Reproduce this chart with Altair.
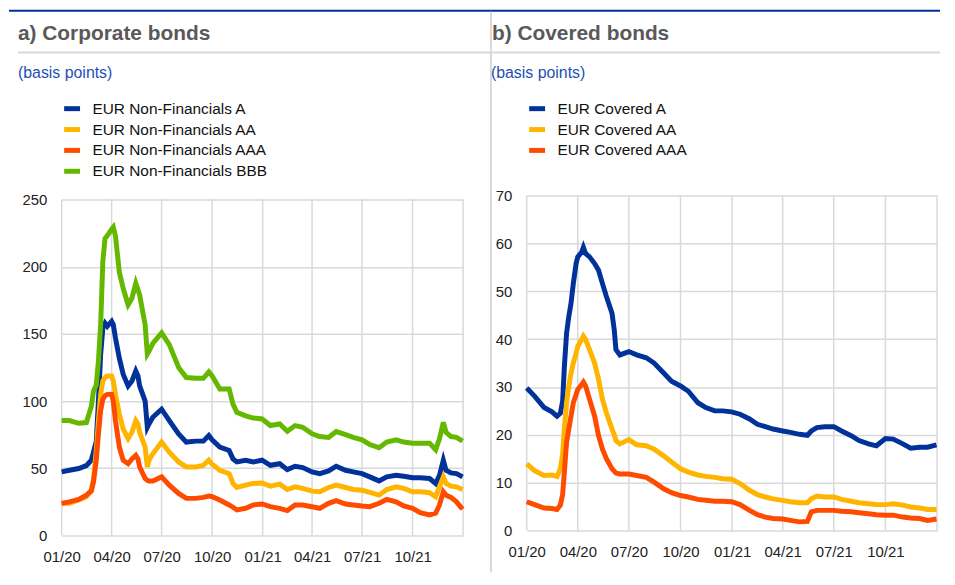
import altair as alt
import pandas as pd

FONT = "Liberation Sans"
GRID = "#d9d9d9"

# ---------------- a) Corporate bonds ----------------
corp_dates = [
    "2020/01/01", "2020/01/15", "2020/02/01", "2020/02/15", "2020/02/24",
    "2020/02/28", "2020/03/04", "2020/03/08", "2020/03/12", "2020/03/16",
    "2020/03/20", "2020/03/24", "2020/04/01", "2020/04/04", "2020/04/08",
    "2020/04/15", "2020/04/22", "2020/05/01", "2020/05/08", "2020/05/15",
    "2020/05/19", "2020/05/22", "2020/06/01", "2020/06/05", "2020/06/08",
    "2020/06/15", "2020/07/01", "2020/07/15", "2020/08/01", "2020/08/15",
    "2020/09/01", "2020/09/15", "2020/09/25", "2020/10/01", "2020/10/15",
    "2020/11/01", "2020/11/08", "2020/11/15", "2020/12/01", "2020/12/15", "2020/12/31",
    "2021/01/15", "2021/02/01", "2021/02/15", "2021/03/01", "2021/03/15",
    "2021/04/01", "2021/04/15", "2021/05/01", "2021/05/15", "2021/06/01",
    "2021/06/15", "2021/07/01", "2021/07/15", "2021/08/01", "2021/08/15",
    "2021/09/01", "2021/09/15", "2021/10/01", "2021/10/15", "2021/11/01",
    "2021/11/12", "2021/11/19", "2021/11/26", "2021/12/01", "2021/12/10",
    "2021/12/20", "2021/12/31",
]
corp_A = [
    47.3, 48.5, 49.8, 52, 56, 62, 70, 100, 134.7, 154.4,
    158, 155.7, 159.4, 157, 147, 132, 120, 111.3, 115, 122.4,
    118.7, 111.3, 100, 80.5, 83, 88, 94, 85.5, 75.6, 69.5,
    70.2, 70.2, 74.4, 71.2, 65.8, 63.3, 57, 54.7, 56, 54.7, 56,
    52.2, 53.4, 49, 51.5, 50.5, 47.3, 46, 48, 51.5, 48.5,
    47.3, 46, 43.6, 40.6, 43.6, 44.8, 44, 43, 43, 42.4,
    38.7, 44.8, 56, 48.5, 46.6, 46, 43.6,
]
corp_AA = [
    23.9, 24, 26.4, 28.8, 34, 42, 63, 85.5, 105, 115,
    117.5, 118.7, 118.7, 115, 105, 90.4, 79.3, 72, 76.8, 85.5,
    83, 76.8, 65.8, 51, 56, 60.8, 69.5, 62, 54.7, 51,
    51, 52.2, 56, 53, 48.5, 46, 38.7, 35.7, 37.4, 38.7, 39,
    36.7, 38.2, 34.2, 36.2, 35, 33, 32.5, 35.7, 37.4, 35.7,
    34.2, 33.7, 32, 30, 34.2, 36.2, 35, 32.5, 32.5, 31.8,
    28.8, 36.2, 43.6, 38.7, 36.7, 36.2, 34.2,
]
corp_AAA = [
    23.9, 25, 26.8, 30, 33, 40, 56, 75.6, 93, 101.5,
    104, 105, 105, 100, 85.5, 65.8, 56, 53.4, 57, 59.6,
    57, 51, 42.4, 41, 40.6, 40.6, 43.6, 37.4, 31.3, 27.6,
    27.6, 28.3, 29.3, 28.8, 26.4, 22.7, 21, 19, 20.2, 22.7, 23.4,
    21.4, 20.2, 18.5, 22.7, 22.7, 21.4, 20.2, 23.9, 25.9, 23.4,
    22.7, 21.9, 21.4, 23.9, 26.8, 25.1, 21.9, 20.2, 17, 15.3,
    16.5, 22.7, 32.5, 30, 28.3, 25, 19.5,
]
corp_BBB = [
    85.5, 85.5, 83.5, 84, 96, 107.6, 112, 130, 157, 204,
    221, 223, 228, 229.5, 223, 196, 184, 171.7, 176.6, 187.7,
    182.8, 179, 157, 135, 137, 143, 150.7, 142, 125, 117.5,
    117, 117, 121.7, 118.7, 109, 109, 97.8, 91.6, 89, 87.4, 86.7,
    81.8, 83, 77.6, 81.8, 80.5, 75.6, 73.6, 73, 77.3, 75,
    73, 71.2, 67.7, 65.3, 69.5, 71.2, 69.5, 68.7, 68.7, 68.7,
    63.8, 71.9, 84.2, 76.8, 73.6, 73, 70.2,
]
corp_names = ["EUR Non-Financials A", "EUR Non-Financials AA",
              "EUR Non-Financials AAA", "EUR Non-Financials BBB"]

# ---------------- b) Covered bonds ----------------
cov_dates = [
    "2020/01/01", "2020/01/15", "2020/02/01", "2020/02/15", "2020/02/24",
    "2020/03/01", "2020/03/05", "2020/03/08", "2020/03/12", "2020/03/16",
    "2020/03/20", "2020/03/24", "2020/03/29", "2020/04/01", "2020/04/08",
    "2020/04/11", "2020/04/15", "2020/04/22", "2020/05/01", "2020/05/08",
    "2020/05/15", "2020/05/22", "2020/06/01", "2020/06/05", "2020/06/08",
    "2020/06/15", "2020/07/01", "2020/07/15", "2020/08/01", "2020/08/15",
    "2020/09/01", "2020/09/15", "2020/10/01", "2020/10/15", "2020/11/01",
    "2020/11/15", "2020/12/01", "2020/12/15", "2020/12/31",
    "2021/01/15", "2021/02/01", "2021/02/15", "2021/03/01", "2021/03/15",
    "2021/04/01", "2021/04/15", "2021/05/01", "2021/05/15", "2021/05/22",
    "2021/06/01", "2021/06/15", "2021/07/01", "2021/07/15", "2021/08/01",
    "2021/08/15", "2021/09/01", "2021/09/15", "2021/10/01", "2021/10/15",
    "2021/11/01", "2021/11/15", "2021/12/01", "2021/12/15", "2021/12/31",
]
cov_A = [
    29.8, 28.1, 25.7, 24.8, 23.9, 24.5, 27, 34, 41.2, 44.7,
    47.5, 51.6, 55.8, 57.2, 58.2, 59.2, 57.9, 57.2, 55.8, 54.4,
    51.6, 48.9, 45.4, 41.9, 37.8, 36.7, 37.4, 36.7, 36.1, 35,
    32.9, 31.2, 30.2, 29.1, 26.7, 25.7, 25, 25, 24.8,
    24.3, 23.3, 22.2, 21.7, 21.2, 20.8, 20.5, 20.1, 19.9, 20.8,
    21.5, 21.7, 21.7, 20.8, 19.8, 18.8, 18.1, 17.7, 19.2, 19.1,
    18.1, 17.2, 17.4, 17.4, 17.9,
]
cov_AA = [
    13.9, 12.5, 11.5, 11.6, 11.3, 12.9, 16, 21, 26.7, 30.2,
    32.9, 35, 37, 38.5, 39.9, 40.6, 39.9, 37.8, 35, 31.6,
    27.4, 24.6, 21.2, 20, 18.8, 18.1, 19, 17.9, 17.7, 17,
    15.6, 14.3, 12.9, 12.2, 11.6, 11.3, 11.1, 10.8, 10.7,
    9.8, 8.4, 7.5, 7, 6.6, 6.3, 6, 5.8, 5.8, 6.6,
    7.2, 7, 7, 6.5, 6.1, 5.8, 5.6, 5.4, 5.4, 5.6,
    5.3, 4.9, 4.7, 4.4, 4.4,
]
cov_AAA = [
    6, 5.4, 4.7, 4.6, 4.4, 5.3, 7.5, 12, 18.4, 21.2,
    23.9, 26.7, 28.4, 29.5, 30.5, 31, 30.2, 27.4, 23.9, 19.8,
    17, 15, 12.9, 12.4, 12, 11.8, 11.8, 11.5, 11.1, 10.1,
    8.7, 7.9, 7.3, 7, 6.5, 6.3, 6.1, 6.1, 6,
    5.4, 4.2, 3.3, 2.8, 2.5, 2.4, 2.1, 1.8, 1.9, 3.9,
    4.2, 4.2, 4.2, 4, 3.9, 3.7, 3.5, 3.3, 3.2, 3.2,
    2.8, 2.6, 2.5, 2.1, 2.4,
]
cov_names = ["EUR Covered A", "EUR Covered AA", "EUR Covered AAA"]

colors4 = ["#003299", "#ffb400", "#ff4b00", "#65b800"]
colors3 = ["#003299", "#ffb400", "#ff4b00"]

grid_dates = ["2020/01/01", "2020/04/01", "2020/07/01", "2020/10/01",
              "2021/01/01", "2021/04/01", "2021/07/01", "2021/10/01", "2022/01/01"]
corp_ticks = [0, 50, 100, 150, 200, 250]
cov_ticks = [0, 10, 20, 30, 40, 50, 60, 70]

titles = ["a) Corporate bonds", "b) Covered bonds"]
unit = "(basis points)"


def long_df(dates, names, series):
    rows = []
    for name, vals in zip(names, series):
        for d, v in zip(dates, vals):
            rows.append({"date": d, "series": name, "value": v})
    return pd.DataFrame(rows)


corp_df = long_df(corp_dates, corp_names, [corp_A, corp_AA, corp_AAA, corp_BBB])
cov_df = long_df(cov_dates, cov_names, [cov_A, cov_AA, cov_AAA])
grid_df = pd.DataFrame({"date": grid_dates})

x_dom = [alt.DateTime(year=2020, month=1, date=1), alt.DateTime(year=2022, month=1, date=1)]
tick_vals = [alt.DateTime(year=y, month=m, date=1) for y in (2020, 2021) for m in (1, 4, 7, 10)]


def make_x(label_pad):
    return alt.X(
        "date:T",
        scale=alt.Scale(domain=x_dom),
        title=None,
        axis=alt.Axis(values=tick_vals, format="%m/%y", grid=False, ticks=False,
                      domain=False, labelFont=FONT, labelFontSize=15,
                      labelColor="#222222", labelPadding=label_pad,
                      labelOverlap=False, labelFlush=False, labelAlign="center"),
    )


def y_scale(domain):
    return alt.Scale(domain=domain, nice=False, zero=False)


def y_axis(ticks):
    return alt.Axis(values=ticks, grid=True, gridColor=GRID, gridWidth=1.5,
                    ticks=False, domain=False, labelFont=FONT, labelFontSize=15,
                    labelColor="#222222", labelPadding=15, title=None)


def text_layer(txt, x, y, size, color, bold=False):
    return alt.Chart(alt.Data(values=[{"t": txt}])).mark_text(
        align="left", baseline="alphabetic", font=FONT, fontSize=size,
        fontWeight="bold" if bold else "normal", color=color,
    ).encode(x=alt.value(x), y=alt.value(y), text="t:N")


def hrule(x1, x2, y, color, w):
    return alt.Chart(alt.Data(values=[{}])).mark_rule(color=color, strokeWidth=w).encode(
        x=alt.value(x1), x2=alt.value(x2), y=alt.value(y))


def vrule(x, y1, y2, color, w):
    return alt.Chart(alt.Data(values=[{}])).mark_rule(color=color, strokeWidth=w).encode(
        x=alt.value(x), y=alt.value(y1), y2=alt.value(y2))


def legend():
    return alt.Legend(orient="none", legendX=0, legendY=-98, title=None,
                      symbolType="stroke", symbolStrokeWidth=5, symbolSize=256,
                      labelFont=FONT, labelFontSize=15.5, labelColor="#111111",
                      labelOffset=10, rowPadding=0, padding=0, labelLimit=400)


def panel(df, names, colors, ydom, ticks, ytop, xpad):
    grid = alt.Chart(grid_df).mark_rule(color=GRID, strokeWidth=1.5).encode(
        x=make_x(xpad),
        y=alt.Y(datum=ticks[0], scale=y_scale(ydom), axis=y_axis(ticks), title=None),
        y2=alt.Y2(datum=ytop),
    )
    lines = alt.Chart(df).mark_line(strokeWidth=5).encode(
        x=make_x(xpad),
        y=alt.Y("value:Q", scale=y_scale(ydom), axis=y_axis(ticks), title=None),
        color=alt.Color("series:N", scale=alt.Scale(domain=names, range=colors),
                        legend=legend()),
    )
    return [grid, lines]


left_layers = panel(corp_df, corp_names, colors4, [0, 252.96], corp_ticks, 250, 14.5)
right_layers = panel(cov_df, cov_names, colors3, [-1.04, 70], cov_ticks, 70, 9.5)

left = alt.layer(
    *left_layers,
    hrule(-53, 884, -186, "#003299", 2),
    hrule(-44, 884, -144, GRID, 2),
    vrule(432, -185, 379, GRID, 2),
    text_layer(titles[0], -44, -157, 21, "#595959", bold=True),
    text_layer(unit, -44, -118, 16, "#1e4fb5"),
).properties(width=404, height=342)

right = alt.layer(
    *right_layers,
    text_layer(titles[1], -35, -157, 21, "#595959", bold=True),
    text_layer(unit, -36, -118, 16, "#1e4fb5"),
).properties(width=413, height=342)

chart = alt.hconcat(left, right, spacing=64, bounds="flush", padding=0,
                    background="white").resolve_scale(
    x="independent", y="independent", color="independent"
).resolve_legend(color="independent").configure_view(stroke=None)

chart.save("out.html", embed_options={"renderer": "svg", "actions": False})
